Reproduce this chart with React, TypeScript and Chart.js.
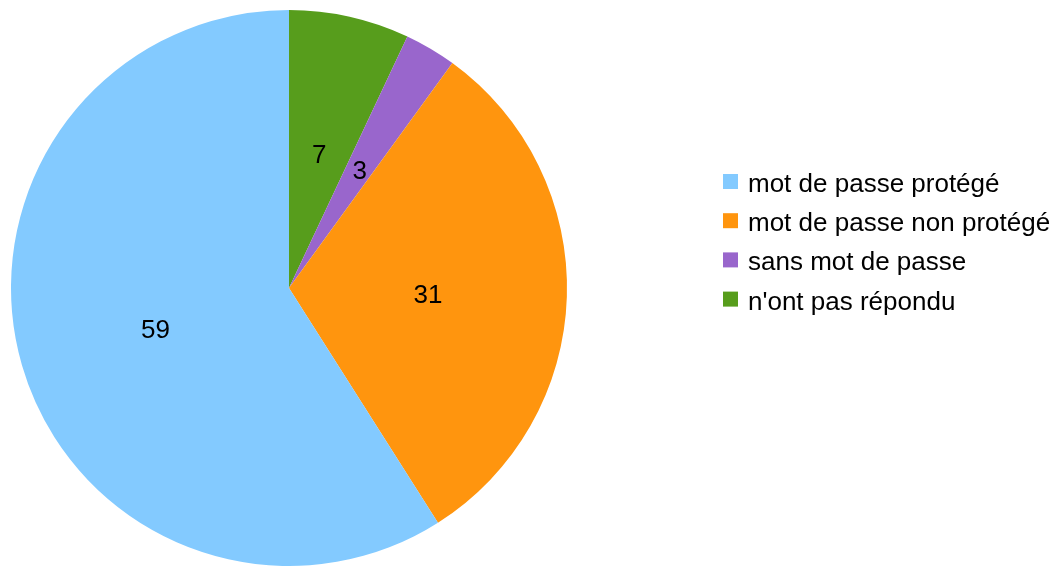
import React, { useEffect, useRef } from "react";
import { Chart, registerables } from "chart.js";

Chart.register(...registerables);

const categories = [
  "mot de passe protégé",
  "mot de passe non protégé",
  "sans mot de passe",
  "n'ont pas répondu",
];
const values = [59, 31, 3, 7];
const colors = ["#83CAFF", "#FF950E", "#9966CC", "#579D1C"];

const FONT = "'Liberation Sans', Arial, sans-serif";

export default function App() {
  const ref = useRef<HTMLCanvasElement | null>(null);

  useEffect(() => {
    if (!ref.current) return;
    // LibreOffice draws counter-clockwise: reverse order for Chart.js (clockwise)
    const order = values.map((_, i) => values.length - 1 - i);
    const labelsPlugin = {
      id: "sliceLabels",
      afterDatasetsDraw(chart: any) {
        const ctx = chart.ctx;
        const meta = chart.getDatasetMeta(0);
        ctx.save();
        ctx.font = `26px ${FONT}`;
        ctx.fillStyle = "#000";
        ctx.textAlign = "center";
        ctx.textBaseline = "alphabetic";
        meta.data.forEach((arc: any, i: number) => {
          const { x, y, startAngle, endAngle, outerRadius } = arc.getProps(
            ["x", "y", "startAngle", "endAngle", "outerRadius"],
            true
          );
          const mid = (startAngle + endAngle) / 2;
          const r = outerRadius * 0.5;
          ctx.fillText(
            String(chart.data.datasets[0].data[i]),
            x + Math.cos(mid) * r,
            y + Math.sin(mid) * r + 11
          );
        });
        ctx.restore();
      },
    };
    const legendPlugin = {
      id: "customLegend",
      afterDraw(chart: any) {
        const ctx = chart.ctx;
        ctx.save();
        ctx.font = `26px ${FONT}`;
        ctx.textAlign = "left";
        ctx.textBaseline = "alphabetic";
        categories.forEach((c, i) => {
          const cy = 181.5 + i * 39.2;
          ctx.fillStyle = colors[i];
          ctx.fillRect(723, cy - 7.5, 15, 15);
          ctx.fillStyle = "#000";
          ctx.fillText(c, 748, cy + 10.5);
        });
        ctx.restore();
      },
    };
    const chart = new Chart(ref.current, {
      type: "pie",
      data: {
        labels: order.map((i) => categories[i]),
        datasets: [
          {
            data: order.map((i) => values[i]),
            backgroundColor: order.map((i) => colors[i]),
            borderWidth: 0,
          },
        ],
      },
      options: {
        animation: false,
        responsive: false,
        layout: { padding: { left: 11, top: 10, right: 492, bottom: 0 } },
        plugins: {
          legend: { display: false },
          tooltip: { enabled: false },
        },
      },
      plugins: [labelsPlugin, legendPlugin],
    });
    return () => chart.destroy();
  }, []);

  return (
    <div style={{ position: "fixed", left: 0, top: 0, width: 1059, height: 566, background: "#fff" }}>
      <canvas ref={ref} width={1059} height={566} style={{ width: 1059, height: 566, display: "block" }} />
    </div>
  );
}
